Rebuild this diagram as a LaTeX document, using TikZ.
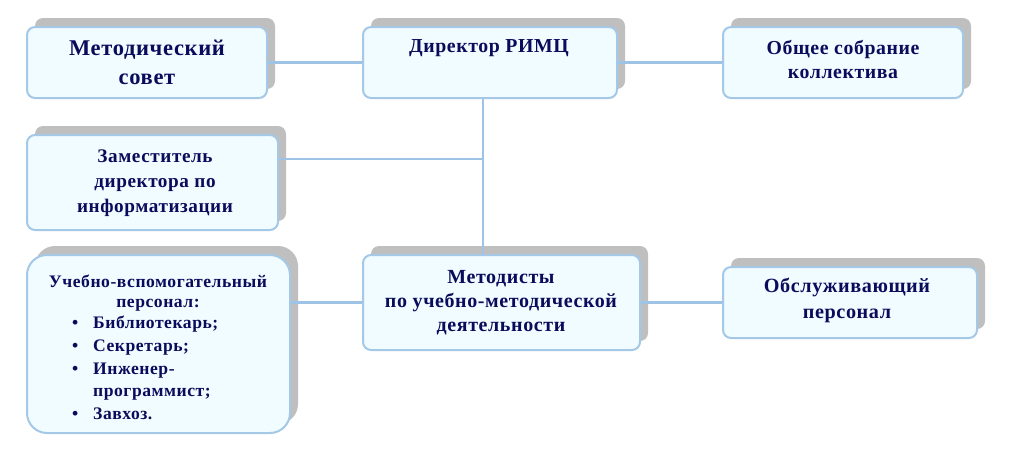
\documentclass[tikz,border=0pt]{standalone}
\usepackage{fontspec}
\setmainfont{Liberation Serif}[LetterSpace=3]
\usetikzlibrary{shadows,calc}
\definecolor{boxfill}{HTML}{F0FCFF}
\definecolor{boxline}{HTML}{A4C8E6}
\definecolor{conn}{HTML}{9DC3E6}
\definecolor{shadowgray}{HTML}{BFBFBF}
\definecolor{txt}{HTML}{0B0B5C}
\tikzset{
  orgbox/.style={draw=boxline, line width=2pt, fill=boxfill, rounded corners=8pt,
    inner sep=0pt, drop shadow={shadow xshift=8pt, shadow yshift=9pt, fill=shadowgray, opacity=1}},
  conline/.style={draw=conn, line width=2.5pt},
  lbl/.style={text=txt, font=\bfseries, align=center, inner sep=0pt},
}
\begin{document}
\begin{tikzpicture}[x=1pt,y=-1pt]
\useasboundingbox (0,0) rectangle (1018,466);
% boxes
\node[orgbox, minimum width=240pt, minimum height=71pt] (met) at (147,62.5) {};
\node[orgbox, minimum width=254pt, minimum height=71pt] (dir) at (490,62.5) {};
\node[orgbox, minimum width=240pt, minimum height=71pt] (obs) at (843,62.5) {};
\node[orgbox, minimum width=251pt, minimum height=95pt] (zam) at (152.5,182.5) {};
\node[orgbox, rounded corners=20pt, minimum width=263pt, minimum height=178pt] (uch) at (158.5,344) {};
\node[orgbox, minimum width=277pt, minimum height=95pt] (mtd) at (501.5,302.5) {};
\node[orgbox, minimum width=254pt, minimum height=71pt] (obsl) at (850,302.5) {};
% connectors
\coordinate (j) at (483,159);
\draw[conline] (met.east) -- (dir.west);
\draw[conline] (dir.east) -- (obs.west);
\draw[conline] (dir.south -| j) -- (mtd.north -| j);
\draw[conline] (zam.east |- j) -- (j);
\draw[conline] (uch.east |- mtd.west) -- (mtd.west);
\draw[conline] (mtd.east) -- (obsl.west);
% texts
\node[lbl, font=\bfseries\fontsize{22.5}{29}\selectfont] (tmet) at (147,62) {Методический\\совет};
\node[lbl, font=\bfseries\fontsize{19.8}{24}\selectfont] (tdir) at (489,48) {Директор РИМЦ};
\node[lbl, font=\bfseries\fontsize{19.8}{24}\selectfont] (tobs) at (843,60) {Общее собрание\\коллектива};
\node[lbl, font=\bfseries\fontsize{19.2}{25}\selectfont] (tzam) at (155,183) {Заместитель\\директора по\\информатизации};
\node[lbl, font=\bfseries\fontsize{17.6}{20.5}\selectfont] (tuch) at (158,293) {Учебно-вспомогательный\\персонал:};
\node[lbl, align=left, anchor=north west, font=\bfseries\fontsize{17.6}{22.7}\selectfont] (tlist) at (72,316)
  {\makebox[21pt][l]{•}Библиотекарь;\\
   \makebox[21pt][l]{•}Секретарь;\\
   \makebox[21pt][l]{•}Инженер-\\
   \hspace*{21pt}программист;\\
   \makebox[21pt][l]{•}Завхоз.};
\node[lbl, font=\bfseries\fontsize{20}{24}\selectfont] (tmtd) at (501,303) {Методисты\\по учебно-методической\\деятельности};
\node[lbl, font=\bfseries\fontsize{20.2}{26}\selectfont] (tobsl) at (847,300) {Обслуживающий\\персонал};
\end{tikzpicture}
\end{document}
